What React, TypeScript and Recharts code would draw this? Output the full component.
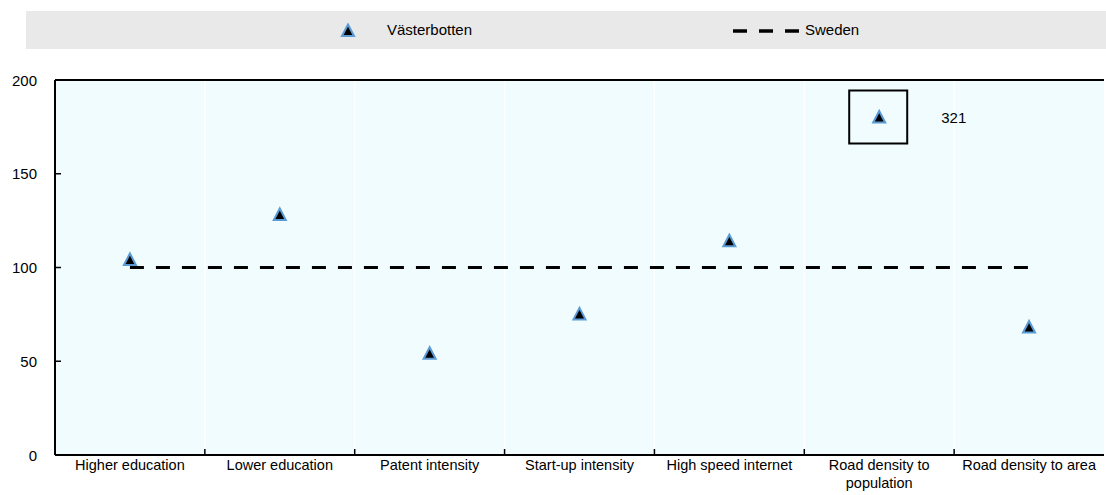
import { ComposedChart, Scatter, Line, XAxis, YAxis, CartesianGrid, Text } from "recharts";

const categories = [
  "Higher education",
  "Lower education",
  "Patent intensity",
  "Start-up intensity",
  "High speed internet",
  "Road density to population",
  "Road density to area",
];
const vasterbotten = [104, 128, 54, 75, 114, 321, 68];
const sweden = [100, 100, 100, 100, 100, 100, 100];
const yTicks = [0, 50, 100, 150, 200];

// values above this are drawn in a box near the top with their real value
const BREAK_AT = 180;

const data = categories.map((name, i) => ({
  name,
  real: vasterbotten[i],
  vb: Math.min(vasterbotten[i], BREAK_AT),
  broken: vasterbotten[i] > 200,
  sweden: sweden[i],
}));

const W = 1106;
const H = 495;
const LEFT = 55;
const RIGHT = 2;
const TOP = 80;
const XAXIS_H = 40;
const PLOT_W = W - LEFT - RIGHT;
const BAND = PLOT_W / categories.length;
const PLOT_BOTTOM = H - XAXIS_H;

const FONT = "'Liberation Sans', Arial, sans-serif";
const BLUE = "#5b9bd5";
const DASH = "14 12";

const Triangle = ({ cx, cy }: { cx: number; cy: number }) => (
  <path
    d={`M${cx},${cy - 6.5} L${cx + 6},${cy + 5} L${cx - 6},${cy + 5} Z`}
    fill="#000"
    stroke={BLUE}
    strokeWidth={2}
    strokeLinejoin="miter"
  />
);

const PointShape = (props: any) => {
  const { cx, cy, payload } = props;
  if (cx == null || cy == null) return <g />;
  return (
    <g>
      {payload.broken && (
        <>
          <rect x={cx - 30} y={cy - 27} width={58} height={53} fill="none" stroke="#000" strokeWidth={2} />
          <text x={cx + 62} y={cy} dominantBaseline="central" fontSize={15} fontFamily={FONT} fill="#000">
            {payload.real}
          </text>
        </>
      )}
      <Triangle cx={cx} cy={cy} />
    </g>
  );
};

const XTick = (props: any) => {
  const { x, payload, index } = props;
  return (
    <g>
      {index < categories.length - 1 && (
        <line x1={x + BAND / 2} x2={x + BAND / 2} y1={PLOT_BOTTOM} y2={PLOT_BOTTOM - 6} stroke="#000" strokeWidth={1.5} />
      )}
      <Text
        x={x}
        y={460}
        width={146}
        textAnchor="middle"
        verticalAnchor="start"
        lineHeight={18}
        fontSize={14.5}
        fontFamily={FONT}
        fill="#000"
      >
        {payload.value}
      </Text>
    </g>
  );
};

const YTick = (props: any) => {
  const { y, payload } = props;
  return (
    <g>
      <line x1={LEFT} x2={LEFT + 6} y1={y} y2={y} stroke="#000" strokeWidth={1.5} />
      <text x={37} y={y} textAnchor="end" dominantBaseline="central" fontSize={15} fontFamily={FONT} fill="#000">
        {payload.value}
      </text>
    </g>
  );
};

export default function App() {
  return (
    <div style={{ position: "absolute", left: 0, top: 0, width: W, height: H, fontFamily: FONT }}>
      <div
        style={{
          position: "absolute",
          left: 26,
          top: 11,
          width: W - 26,
          height: 38,
          background: "#e9e9e9",
          fontSize: 15,
          color: "#000",
        }}
      >
        <svg style={{ position: "absolute", left: 313, top: 12 }} width={18} height={16}>
          <Triangle cx={9} cy={8} />
        </svg>
        <span style={{ position: "absolute", left: 361, top: 10 }}>Västerbotten</span>
        <svg style={{ position: "absolute", left: 706, top: 12 }} width={70} height={16}>
          <line x1={1} x2={67} y1={8} y2={8} stroke="#000" strokeWidth={3.5} strokeDasharray={DASH} />
        </svg>
        <span style={{ position: "absolute", left: 779, top: 10 }}>Sweden</span>
      </div>
      <div style={{ position: "absolute", left: 0, top: 0 }}>
        <ComposedChart width={W} height={H} data={data} margin={{ top: TOP, right: RIGHT, left: 0, bottom: 0 }}>
          <CartesianGrid
            horizontal={false}
            fill="#f0fcfd"
            stroke="#ffffff"
            strokeWidth={1.5}
            verticalCoordinatesGenerator={({ offset }: any) =>
              categories.slice(1).map((_, i) => offset.left + (i + 1) * (offset.width / categories.length))
            }
          />
          <XAxis
            dataKey="name"
            height={XAXIS_H}
            interval={0}
            padding={{ left: BAND / 2, right: BAND / 2 }}
            tickLine={false}
            axisLine={{ stroke: "#000", strokeWidth: 2 }}
            tick={<XTick />}
          />
          <YAxis
            width={LEFT}
            domain={[0, 200]}
            ticks={yTicks}
            tickLine={false}
            axisLine={{ stroke: "#000", strokeWidth: 2 }}
            tick={<YTick />}
          />
          <line x1={LEFT} x2={W - RIGHT} y1={TOP} y2={TOP} stroke="#000" strokeWidth={2} />
          <Line
            dataKey="sweden"
            stroke="#000"
            strokeWidth={3}
            strokeDasharray={DASH}
            dot={false}
            activeDot={false}
            isAnimationActive={false}
          />
          <Scatter dataKey="vb" shape={<PointShape />} isAnimationActive={false} />
        </ComposedChart>
      </div>
    </div>
  );
}
